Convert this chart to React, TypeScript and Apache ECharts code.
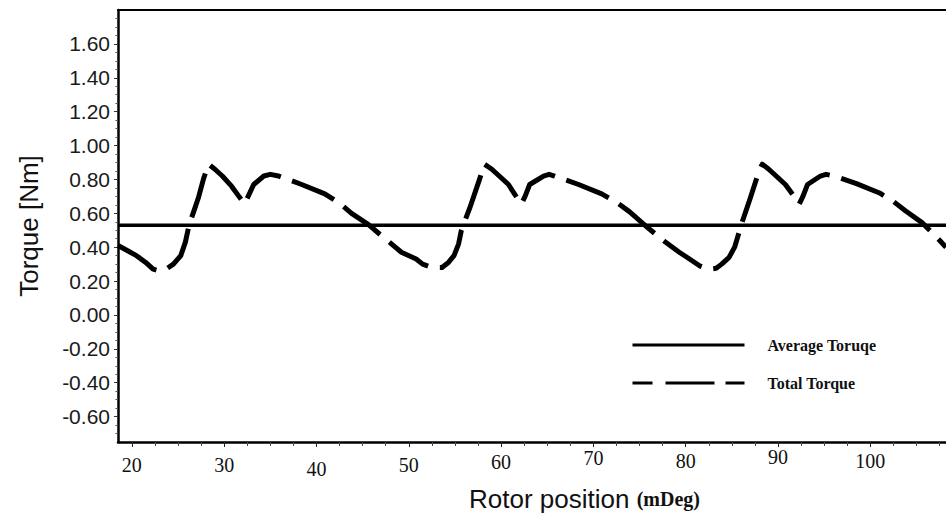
import { useEffect, useRef } from "react";
import * as echarts from "echarts";

const X_MIN = 18.5;
const X_MAX = 108.2;
const Y_MIN = -0.75;
const Y_MAX = 1.8;

const X_TICKS = [20, 30, 40, 50, 60, 70, 80, 90, 100];
const X_MINOR = [22.5, 25, 27.5, 32.5, 35, 37.5, 42.5, 45, 47.5, 52.5, 55, 57.5, 62.5, 65, 67.5, 72.5, 75, 77.5, 82.5, 85, 87.5, 92.5, 95, 97.5, 102.5, 105, 107.5];
const Y_TICKS = [-0.6, -0.4, -0.2, 0, 0.2, 0.4, 0.6, 0.8, 1.0, 1.2, 1.4, 1.6];
const Y_MINOR = [-0.7, -0.65, -0.55, -0.5, -0.45, -0.35, -0.3, -0.25, -0.15, -0.1, -0.05, 0.05, 0.1, 0.15, 0.25, 0.3, 0.35, 0.45, 0.5, 0.55, 0.65, 0.7, 0.75, 0.85, 0.9, 0.95, 1.05, 1.1, 1.15, 1.25, 1.3, 1.35, 1.45, 1.5, 1.55, 1.65, 1.7, 1.75];

const AVERAGE_TORQUE = 0.53;

const POSITION = [
  18.5, 19.5, 20.5, 21.5, 22.3, 23.0, 23.7, 24.5, 25.3, 25.8, 26.2, 26.7, 27.2, 27.8, 28.3,
  29.0, 29.8, 30.8, 31.6, 32.2, 32.6, 33.2, 34.3, 35.0, 35.9, 38.4, 40.9, 42.5, 43.8, 45.6,
  47.0, 49.2, 50.8, 51.5, 52.5, 53.6, 54.3, 54.9, 55.4, 55.7, 56.6, 57.6, 58.2,
  59.0, 59.8, 60.8, 61.5, 62.2, 62.6, 63.1, 64.6, 65.2, 65.8, 68.4, 70.9, 72.5, 73.9, 76.0,
  77.8, 79.3, 80.7, 81.5, 82.5, 83.3, 83.9, 84.7, 85.3, 86.1, 87.0, 88.0, 88.3,
  89.0, 89.8, 90.8, 91.6, 92.3, 92.7, 93.2, 94.6, 95.2, 96.1, 98.5, 101.0, 102.5, 103.8, 105.6,
  107.0, 108.2,
];
const TOTAL_TORQUE = [
  0.41, 0.38, 0.35, 0.31, 0.27, 0.26, 0.27, 0.3, 0.35, 0.43, 0.53, 0.61, 0.69, 0.81, 0.89,
  0.86, 0.82, 0.76, 0.7, 0.655, 0.7, 0.77, 0.82, 0.83, 0.82, 0.77, 0.715, 0.66, 0.6, 0.535,
  0.47, 0.37, 0.33, 0.3, 0.28, 0.28, 0.31, 0.35, 0.42, 0.5, 0.63, 0.79, 0.89,
  0.86, 0.82, 0.77, 0.71, 0.655, 0.7, 0.77, 0.82, 0.83, 0.82, 0.77, 0.715, 0.665, 0.61, 0.51,
  0.43, 0.37, 0.32, 0.29, 0.27, 0.275, 0.3, 0.34, 0.4, 0.545, 0.69, 0.86, 0.89,
  0.86, 0.82, 0.77, 0.71, 0.655, 0.7, 0.77, 0.82, 0.83, 0.82, 0.775, 0.72, 0.67, 0.615, 0.545,
  0.47, 0.4,
];

const SERIES_NAMES = ["Average Toruqe", "Total Torque"];

// vertical shift of each x tick label (the source has uneven label baselines)
const X_LABEL_SHIFT: Record<string, number> = { "20": 8, "30": 8, "40": 12, "50": 8, "60": 5, "70": 1, "80": 4, "90": 0, "100": 4 };

export default function App() {
  const ref = useRef<HTMLDivElement>(null);
  useEffect(() => {
    document.body.style.margin = "0";
    if (!ref.current) return;
    const chart = echarts.init(ref.current, undefined, { renderer: "svg" });
    const rich: Record<string, any> = {};
    Object.values(X_LABEL_SHIFT).forEach((p) => {
      rich["p" + p] = { fontFamily: "Liberation Serif", fontSize: 20, color: "#111", padding: [p, 0, 0, 0] };
    });
    chart.setOption({
      animation: false,
      backgroundColor: "#fff",
      grid: { left: 118, right: 0, top: 10, bottom: 78, containLabel: false, outerBoundsMode: "none" },
      legend: {
        orient: "vertical",
        left: 631,
        top: 337,
        padding: 0,
        itemWidth: 112,
        itemHeight: 14,
        itemGap: 22,
        selectedMode: false,
        itemStyle: { opacity: 0, color: "rgba(0,0,0,0)", borderWidth: 0 },
        textStyle: { fontFamily: "Liberation Serif", fontWeight: "bold", fontSize: 16, color: "#111", padding: [0, 0, 0, 18] },
        data: [
          { name: SERIES_NAMES[0], lineStyle: { width: 3, color: "#000" } },
          { name: SERIES_NAMES[1], lineStyle: { width: 3, color: "#000", type: [20, 13, 49, 11, 19, 12] } },
        ],
      },
      xAxis: [
        {
          type: "value",
          min: X_MIN,
          max: X_MAX,
          position: "bottom",
          axisLine: { show: true, onZero: false, lineStyle: { color: "#000", width: 2.5 } },
          axisTick: { show: true, length: 5, customValues: X_TICKS, lineStyle: { color: "#222", width: 1 } },
          axisLabel: {
            customValues: X_TICKS,
            margin: 5,
            formatter: (v: number) => {
              const s = String(Math.round(v));
              return "{p" + (X_LABEL_SHIFT[s] ?? 6) + "|" + s + "}";
            },
            rich,
          },
          splitLine: { show: false },
          name: "{a|Rotor position }{b|(mDeg)}",
          nameLocation: "middle",
          nameGap: 44,
          nameTextStyle: {
            padding: [0, 0, 0, 105],
            rich: {
              a: { fontFamily: "Liberation Sans", fontSize: 26, color: "#111" },
              b: { fontFamily: "Liberation Serif", fontWeight: "bold", fontSize: 20, color: "#111" },
            },
          },
        },
        {
          type: "value",
          min: X_MIN,
          max: X_MAX,
          position: "bottom",
          axisLine: { show: false, onZero: false },
          axisTick: { show: true, length: 4, customValues: X_MINOR, lineStyle: { color: "#444", width: 1 } },
          axisLabel: { show: false },
          splitLine: { show: false },
        },
        {
          type: "value",
          min: X_MIN,
          max: X_MAX,
          position: "top",
          axisLine: { show: true, onZero: false, lineStyle: { color: "#000", width: 2 } },
          axisTick: { show: false },
          axisLabel: { show: false },
          splitLine: { show: false },
        },
      ],
      yAxis: [
        {
          type: "value",
          min: Y_MIN,
          max: Y_MAX,
          position: "left",
          axisLine: { show: true, onZero: false, lineStyle: { color: "#000", width: 2.5 } },
          axisTick: { show: true, length: 4, customValues: Y_TICKS, lineStyle: { color: "#333", width: 1 } },
          axisLabel: {
            customValues: Y_TICKS,
            margin: 8,
            formatter: (v: number) => v.toFixed(2),
            fontFamily: "Liberation Sans",
            fontSize: 21,
            color: "#1a1a1a",
          },
          splitLine: { show: false },
          name: "Torque [Nm]",
          nameLocation: "middle",
          nameGap: 76,
          nameTextStyle: { fontFamily: "Liberation Sans", fontSize: 26, color: "#111" },
        },
        {
          type: "value",
          min: Y_MIN,
          max: Y_MAX,
          position: "left",
          axisLine: { show: false, onZero: false },
          axisTick: { show: true, length: 2.5, customValues: Y_MINOR, lineStyle: { color: "#555", width: 1 } },
          axisLabel: { show: false },
          splitLine: { show: false },
        },
      ],
      series: [
        {
          name: SERIES_NAMES[0],
          type: "line",
          xAxisIndex: 0,
          yAxisIndex: 0,
          symbol: "none",
          data: [[X_MIN, AVERAGE_TORQUE], [X_MAX, AVERAGE_TORQUE]],
          itemStyle: { color: "#000" },
          lineStyle: { color: "#000", width: 3.5 },
          z: 3,
        },
        {
          name: SERIES_NAMES[1],
          type: "line",
          xAxisIndex: 0,
          yAxisIndex: 0,
          symbol: "none",
          data: POSITION.map((x, i) => [x, TOTAL_TORQUE[i]]),
          itemStyle: { color: "#000" },
          lineStyle: { color: "#000", width: 5, type: [46, 12], join: "round" },
          z: 2,
        },
      ],
    });
    return () => chart.dispose();
  }, []);
  return <div ref={ref} style={{ width: 946, height: 520 }} />;
}
